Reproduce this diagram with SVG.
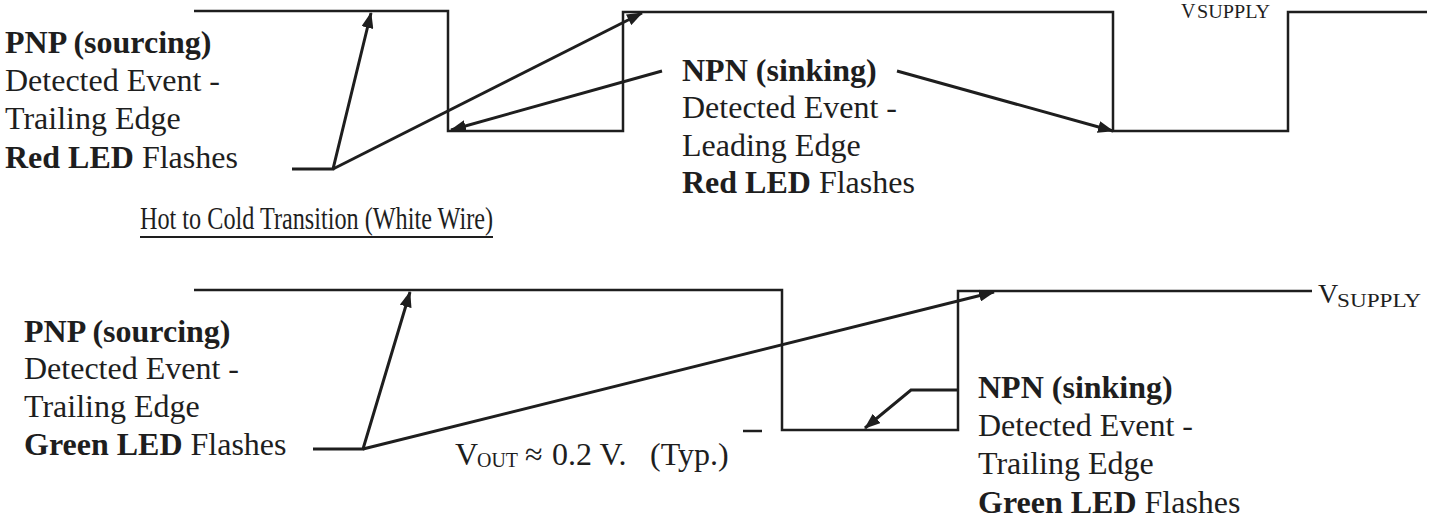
<svg xmlns="http://www.w3.org/2000/svg" width="1431" height="520" viewBox="0 0 1431 520">
  <defs>
    <style>
      .wave { fill: none; stroke: #1e1e1e; stroke-width: 2.5; stroke-linejoin: miter; }
      .conn { fill: none; stroke: #1e1e1e; stroke-width: 3; }
      .lbl { font-family: "Liberation Serif", "Times New Roman", serif; font-size: 32px; fill: #1e1e1e; }
      .b { font-weight: bold; }
      .vbig { font-family: "Liberation Serif", "Times New Roman", serif; font-size: 28px; fill: #1e1e1e; }
      .vsub { font-family: "Liberation Serif", "Times New Roman", serif; font-size: 18px; fill: #1e1e1e; }
      .vout { font-family: "Liberation Serif", "Times New Roman", serif; font-size: 32px; fill: #1e1e1e; }
    </style>
    <marker id="arrow" markerUnits="userSpaceOnUse" markerWidth="16" markerHeight="12" refX="15" refY="6" orient="auto">
      <path d="M0,0 L16,6 L0,12 z" fill="#1e1e1e"/>
    </marker>
  </defs>
  <rect width="1431" height="520" fill="#ffffff"/>

  <g id="waveform-top">
    <polyline class="wave" points="194,11 448,11 448,131 623,131 623,12 1113,12 1113,131 1288,131 1288,12 1427,12"/>
  </g>
  <g id="waveform-bottom">
    <polyline class="wave" points="194,290 782,290 782,430 958,430 958,291 1312,291"/>
    <line class="wave" x1="743" y1="431" x2="762" y2="431"/>
  </g>

  <g id="connectors">
    <polyline class="conn" points="292,169 333,169 371,13" marker-end="url(#arrow)"/>
    <line class="conn" x1="333" y1="169" x2="642" y2="13" marker-end="url(#arrow)"/>
    <line class="conn" x1="662" y1="71" x2="451" y2="130" marker-end="url(#arrow)"/>
    <line class="conn" x1="897" y1="71" x2="1113" y2="131" marker-end="url(#arrow)"/>
    <polyline class="conn" points="313,449 363,449 410,292" marker-end="url(#arrow)"/>
    <line class="conn" x1="363" y1="449" x2="994" y2="292" marker-end="url(#arrow)"/>
    <polyline class="conn" points="958,390 911,390 865,428" marker-end="url(#arrow)"/>
  </g>

  <g id="pnp-top">
    <text class="lbl" x="5" y="53"><tspan class="b">PNP (sourcing)</tspan></text>
    <text class="lbl" x="5" y="91">Detected Event -</text>
    <text class="lbl" x="5" y="129">Trailing Edge</text>
    <text class="lbl" x="5" y="168"><tspan class="b">Red LED</tspan> Flashes</text>
  </g>

  <g id="npn-top">
    <text class="lbl" x="682" y="81"><tspan class="b">NPN (sinking)</tspan></text>
    <text class="lbl" x="682" y="118">Detected Event -</text>
    <text class="lbl" x="682" y="156">Leading Edge</text>
    <text class="lbl" x="682" y="193"><tspan class="b">Red LED</tspan> Flashes</text>
  </g>

  <g id="vsupply-top">
    <text class="vbig" x="1181" y="18" style="font-size:20px">V</text>
    <text class="vsub" x="1197" y="18" textLength="73" lengthAdjust="spacingAndGlyphs">SUPPLY</text>
  </g>

  <g id="title">
    <text class="vbig" x="140" y="229" style="font-size:32px" textLength="353" lengthAdjust="spacingAndGlyphs">Hot to Cold Transition (White Wire)</text>
    <line x1="140" y1="237" x2="493" y2="237" stroke="#1e1e1e" stroke-width="1.8"/>
  </g>

  <g id="pnp-bottom">
    <text class="lbl" x="24" y="342"><tspan class="b">PNP (sourcing)</tspan></text>
    <text class="lbl" x="24" y="379">Detected Event -</text>
    <text class="lbl" x="24" y="417">Trailing Edge</text>
    <text class="lbl" x="24" y="455"><tspan class="b">Green LED</tspan> Flashes</text>
  </g>

  <g id="npn-bottom">
    <text class="lbl" x="978" y="398"><tspan class="b">NPN (sinking)</tspan></text>
    <text class="lbl" x="978" y="436">Detected Event -</text>
    <text class="lbl" x="978" y="474">Trailing Edge</text>
    <text class="lbl" x="978" y="513"><tspan class="b">Green LED</tspan> Flashes</text>
  </g>

  <g id="vout">
    <text class="vout" x="455" y="465">V<tspan x="477" dy="2" style="font-size:20px" textLength="41" lengthAdjust="spacingAndGlyphs">OUT</tspan><tspan x="525" dy="-2">≈</tspan><tspan x="552">0.2 V.</tspan><tspan x="650">(Typ.)</tspan></text>
  </g>

  <g id="vsupply-bottom">
    <text class="vbig" x="1318" y="303">V</text>
    <text class="vsub" x="1337" y="307" textLength="84" lengthAdjust="spacingAndGlyphs">SUPPLY</text>
  </g>
</svg>
